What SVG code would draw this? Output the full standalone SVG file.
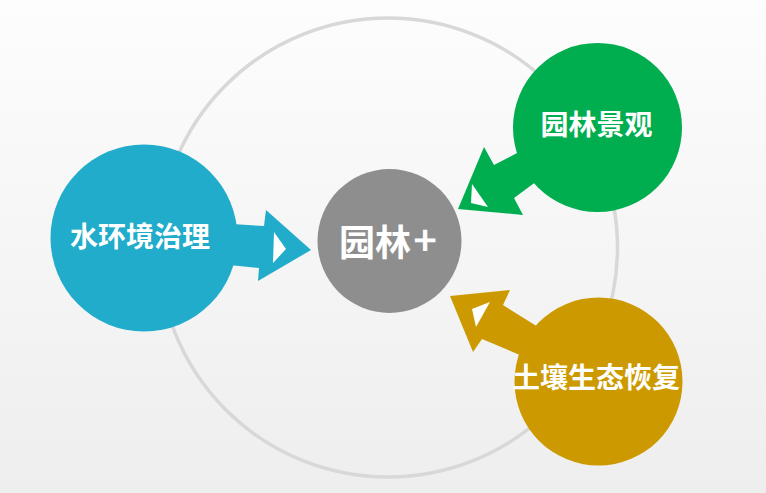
<svg xmlns="http://www.w3.org/2000/svg" width="766" height="493" viewBox="0 0 766 493">
  <defs>
    <linearGradient id="bg" x1="0" y1="0" x2="0" y2="1">
      <stop offset="0" stop-color="#fdfdfd"/>
      <stop offset="1" stop-color="#eeeeee"/>
    </linearGradient>
  </defs>
  <style>
    .lbl { font-family: "Noto Sans CJK SC", "Noto Sans", sans-serif; font-weight: bold; fill: #ffffff; text-anchor: middle; font-size: 28px; }
    .notch { fill: #ffffff; }
  </style>
  <rect x="0" y="0" width="766" height="493" fill="url(#bg)"/>
  <circle cx="388" cy="247.5" r="229.5" fill="none" stroke="#d8d8d8" stroke-width="3.5"/>

  <g id="connectors">
    <polygon points="200,222 264,226 266,210 311,250 258,281 259,268 200,262" fill="#20acca"/>
    <polygon points="458,209 484,147 494,165 550,136 560,164 514,198 523,215" fill="#00ad4f"/>
    <polygon points="450,296 510,290 503,305 567,345 560,372 482,339 473,352" fill="#cc9a00"/>
  </g>

  <g id="node-center">
    <circle cx="389.5" cy="241" r="72" fill="#8e8e8e"/>
    <text class="lbl" x="387.5" y="256" style="font-size:36px">园林<tspan dx="3" dy="-1" style="font-weight:normal;font-size:40px;stroke:#ffffff;stroke-width:1.2">+</tspan></text>
  </g>

  <g id="node-water">
    <circle cx="144" cy="238" r="93.5" fill="#20acca"/>
    <text class="lbl" x="140" y="247">水环境治理</text>
  </g>

  <g id="node-landscape">
    <circle cx="597.5" cy="127.5" r="84.5" fill="#00ad4f"/>
    <text class="lbl" x="596.5" y="135">园林景观</text>
  </g>

  <g id="node-soil">
    <circle cx="598.5" cy="381.5" r="84" fill="#cc9a00"/>
    <text class="lbl" x="596" y="388">土壤生态恢复</text>
  </g>

  <g id="notches">
    <polygon class="notch" points="274,232 286,249 273,263"/>
    <polygon class="notch" points="472,184 471,203 488,207"/>
    <polygon class="notch" points="490,302 472,309 476,327"/>
  </g>
</svg>
